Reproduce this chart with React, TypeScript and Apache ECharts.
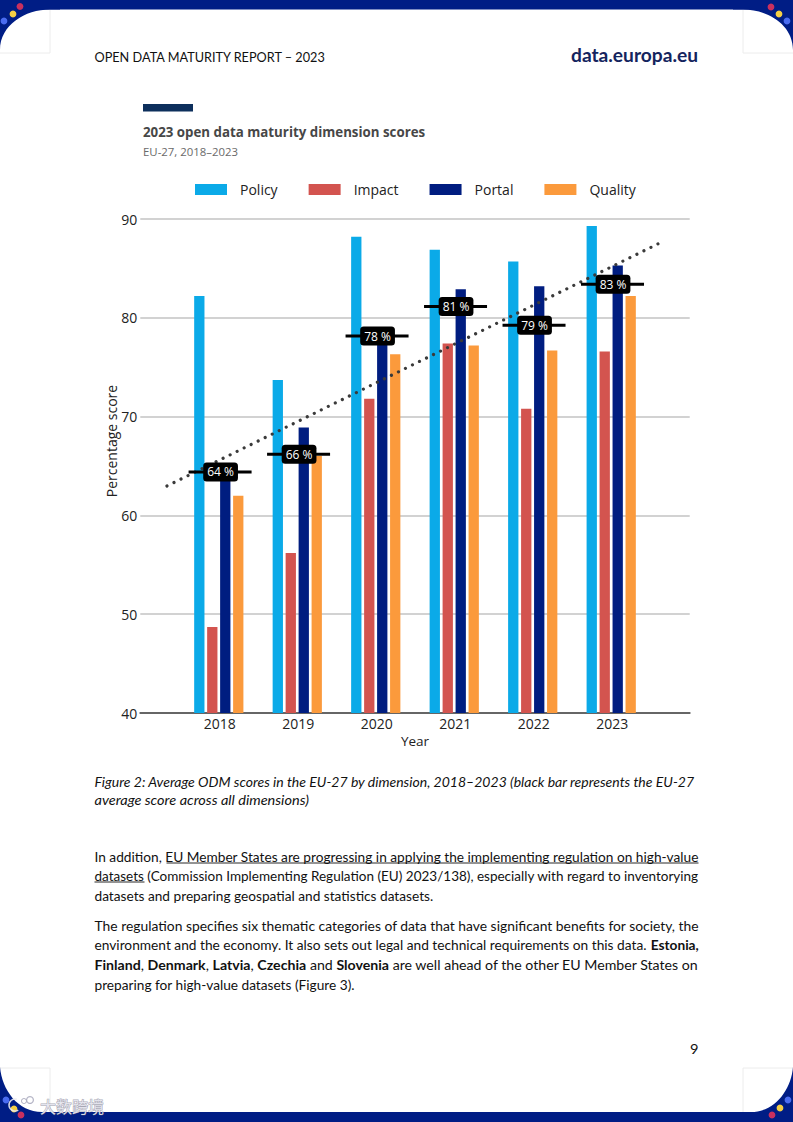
import React, { useEffect, useRef } from "react";
import * as echarts from "echarts";

const years = ["", "2018", "2019", "2020", "2021", "2022", "2023", ""];
const policy = [null, 82.2, 73.7, 88.2, 86.9, 85.7, 89.3, null];
const impact = [null, 48.7, 56.2, 71.8, 77.4, 70.8, 76.6, null];
const portal = [null, 65, 68.9, 79, 82.9, 83.2, 85.3, null];
const quality = [null, 62, 66, 76.3, 77.2, 76.7, 82.2, null];
const average = [null, 64.4, 66.2, 78.15, 81.15, 79.25, 83.4, null];
const averageLabels = ["", "64 %", "66 %", "78 %", "81 %", "79 %", "83 %", ""];
const trend = [[2017.34, 62.98], [2023.61, 87.54]];

const COLORS = { Policy: "#0baae8", Impact: "#d3544f", Portal: "#001d80", Quality: "#fb9a3c" };
const NAVY = "#001d85";
const CHART_FONT = "'Open Sans'";
const PAGE_FONT = "Lato";

// text, left, right, centre y, bold/italic style
const pageLines: [string, number, number, number, string?][] = [
  ["OPEN DATA MATURITY REPORT – 2023", 94.5, 326, 57],
  ["Figure 2: Average ODM scores in the EU-27 by dimension, 2018–2023 (black bar represents the EU-27", 94.5, 695, 782, "italic"],
  ["average score across all dimensions)", 94.5, 309, 800, "italic"],
  ["In addition, EU Member States are progressing in applying the implementing regulation on high-value", 94.5, 698.5, 857.5],
  ["datasets (Commission Implementing Regulation (EU) 2023/138), especially with regard to inventorying", 94.5, 698.5, 876.5],
  ["datasets and preparing geospatial and statistics datasets.", 94.5, 433.5, 896.5],
  ["The regulation specifies six thematic categories of data that have significant benefits for society, the", 94.5, 698.5, 926],
  ["environment and the economy. It also sets out legal and technical requirements on this data. {b|Estonia,}", 94.5, 698.5, 945.5],
  ["{b|Finland}, {b|Denmark}, {b|Latvia}, {b|Czechia} and {b|Slovenia} are well ahead of the other EU Member States on", 94.5, 698.5, 965.5],
  ["preparing for high-value datasets (Figure 3).", 94.5, 355, 985.5],
  ["9", 690, 698.5, 1049],
];

const cornerPaths: Record<string, string> = {
  cornerTL: "M0 0 H60 V9.5 H50 C25 9.5 0 25 0 50 Z",
  cornerTR: "M793 0 H733 V9.5 H743 C768 9.5 793 25 793 50 Z",
  cornerBL: "M0 1067 C2 1090 18 1112 42 1112 H60 V1122 H0 Z",
  cornerBR: "M793 1067 C791 1090 775 1112 751 1112 H733 V1122 H793 Z",
};
Object.keys(cornerPaths).forEach((k) =>
  echarts.graphic.registerShape(k, echarts.graphic.extendPath(cornerPaths[k], {}))
);

const dots: [number, number, string][] = [
  [20, 6.5, "#c8305f"], [13, 14, "#f4cf45"], [4, 21, "#4a6cf0"],
  [771, 7, "#c8305f"], [779, 14, "#f4cf45"], [787, 21, "#4a6cf0"],
  [6, 1100, "#4a6cf0"], [14, 1109, "#f4cf45"], [21, 1115, "#c8305f"],
  [788, 1100, "#4a6cf0"], [780, 1108, "#f4cf45"], [772, 1115, "#c8305f"],
];
const guideLines: number[][] = [
  [50, 10, 50, 53], [0, 53, 50, 53], [743, 10, 743, 53], [743, 53, 793, 53],
  [50, 1068, 50, 1112], [0, 1068, 50, 1068], [743, 1068, 743, 1112], [743, 1068, 793, 1068],
];

function measure(ctx: CanvasRenderingContext2D, text: string, size: number, style: string) {
  let total = 0;
  text.split(/(\{b\|[^}]*\})/).forEach((part) => {
    const m = part.match(/^\{b\|([^}]*)\}$/);
    ctx.font = `${style} ${m ? "bold" : "normal"} ${size}px ${PAGE_FONT}`;
    total += ctx.measureText(m ? m[1] : part).width;
  });
  return total;
}

const WATERMARK = "rgba(232,232,240,0.95)";
const WATERMARK_EDGE = "rgba(90,90,115,0.55)";

function buildGraphics() {
  const ctx = document.createElement("canvas").getContext("2d") as CanvasRenderingContext2D;
  const size = 13;
  const els: any[] = [
    { type: "rect", shape: { x: 0, y: 0, width: 793, height: 9.5 }, style: { fill: NAVY }, z: 1 },
    { type: "rect", shape: { x: 0, y: 1112, width: 793, height: 10 }, style: { fill: NAVY }, z: 1 },
  ];
  guideLines.forEach((l) =>
    els.push({
      type: "line",
      shape: { x1: l[0], y1: l[1], x2: l[2], y2: l[3] },
      style: { stroke: "#ececec", lineWidth: 1 },
      z: 0,
    })
  );
  Object.keys(cornerPaths).forEach((k) =>
    els.push({ type: k, x: 0, y: 0, style: { fill: NAVY }, z: 1 })
  );
  dots.forEach((d) =>
    els.push({ type: "circle", shape: { cx: d[0], cy: d[1], r: 3.4 }, style: { fill: d[2] }, z: 2 })
  );
  pageLines.forEach(([text, left, right, y, style]) => {
    const st = style || "normal";
    els.push({
      type: "text",
      x: left,
      y,
      scaleX: ((right - left) / measure(ctx, text, size, st)) * 1.001,
      z: 3,
      style: {
        text,
        fontFamily: PAGE_FONT,
        fontSize: size,
        fontStyle: st,
        fill: "#111",
        verticalAlign: "middle",
        align: "left",
        rich: { b: { fontFamily: PAGE_FONT, fontSize: size, fontWeight: "bold", fill: "#111" } },
      },
    });
  });
  [[166.5, 698.5, 863], [94.5, 144.5, 882]].forEach((u) =>
    els.push({
      type: "line",
      shape: { x1: u[0], y1: u[2], x2: u[1], y2: u[2] },
      style: { stroke: "#111", lineWidth: 0.9 },
      z: 3,
    })
  );
  // header logo wordmark
  ctx.font = `bold 19px ${PAGE_FONT}`;
  const logo = "data.europa.eu";
  els.push({
    type: "text",
    x: 571,
    y: 55,
    scaleX: 127 / ctx.measureText(logo).width,
    z: 3,
    style: { text: logo, fontFamily: PAGE_FONT, fontWeight: "bold", fontSize: 19, fill: "#14245e", verticalAlign: "middle" },
  });
  // title accent
  els.push({ type: "rect", shape: { x: 143, y: 104, width: 50, height: 7.5 }, style: { fill: "#0d2f5c" }, z: 3 });
  // watermark
  els.push({
    type: "text",
    x: 40,
    y: 1106,
    z: 4,
    style: {
      text: "大数跨境",
      fontFamily: "'Noto Sans CJK SC'",
      fontSize: 16,
      fill: WATERMARK,
      stroke: WATERMARK_EDGE,
      lineWidth: 1,
      verticalAlign: "middle",
    },
  });
  els.push({ type: "ring", shape: { cx: 30, cy: 1100, r: 4, r0: 2.8 }, style: { fill: "rgba(170,170,190,0.9)" }, z: 4 });
  els.push({ type: "ring", shape: { cx: 24, cy: 1101, r: 3, r0: 2 }, style: { fill: "rgba(170,170,190,0.9)" }, z: 4 });
  els.push({ type: "arc", shape: { cx: 15, cy: 1105, r: 6, startAngle: 1, endAngle: 5 }, style: { stroke: "rgba(235,235,240,0.9)", lineWidth: 1.5, fill: "none" }, z: 4 });
  return els;
}

function barSeries(name: keyof typeof COLORS, data: (number | null)[]) {
  return {
    name,
    type: "bar",
    data,
    barWidth: 10.3,
    barGap: "26%",
    itemStyle: { color: COLORS[name] },
    z: 2,
  };
}

export default function App() {
  const ref = useRef<HTMLDivElement>(null);
  useEffect(() => {
    const chart = echarts.init(ref.current as HTMLDivElement, undefined, { renderer: "svg" });
    chart.setOption({
      animation: false,
      backgroundColor: "#fff",
      textStyle: { fontFamily: CHART_FONT },
      title: {
        text: "2023 open data maturity dimension scores",
        subtext: "EU-27, 2018–2023",
        left: 143,
        top: 125,
        padding: 0,
        itemGap: 8,
        textStyle: { fontFamily: CHART_FONT, fontSize: 13.3, fontWeight: "bold", color: "#474747" },
        subtextStyle: { fontFamily: CHART_FONT, fontSize: 11.4, color: "#6a6a6a" },
      },
      legend: {
        left: 195,
        top: 182.5,
        padding: 0,
        icon: "rect",
        itemWidth: 32,
        itemHeight: 11,
        itemGap: 31,
        data: ["Policy", "Impact", "Portal", "Quality"],
        textStyle: { fontFamily: CHART_FONT, fontSize: 14, color: "#222", padding: [0, 0, 0, 8] },
      },
      grid: { left: 140.3, width: 549.4, top: 219, height: 494 },
      xAxis: [
        {
          type: "category",
          data: years,
          boundaryGap: false,
          name: "Year",
          nameLocation: "middle",
          nameGap: 21,
          nameTextStyle: { fontFamily: CHART_FONT, fontSize: 13.5, color: "#222" },
          axisLine: { lineStyle: { color: "#666", width: 2 } },
          axisTick: { show: false },
          axisLabel: { fontFamily: CHART_FONT, fontSize: 14, color: "#222", margin: 3, interval: 0, padding: [0, 0, 0, 2] },
          splitLine: { show: false },
        },
        { type: "value", min: 2017, max: 2024, show: false, splitLine: { show: false } },
      ],
      yAxis: {
        type: "value",
        min: 40,
        max: 90,
        interval: 10,
        name: "Percentage score",
        nameLocation: "middle",
        nameGap: 22,
        nameMoveOverlap: false,
        nameTextStyle: { fontFamily: CHART_FONT, fontSize: 14, color: "#222", padding: [0, 0, 0, 50] },
        axisLine: { show: false },
        axisTick: { show: false },
        axisLabel: { fontFamily: CHART_FONT, fontSize: 14, color: "#222", margin: 3 },
        splitLine: { lineStyle: { color: "#d2d2d2", width: 2.2 } },
      },
      series: [
        barSeries("Policy", policy),
        barSeries("Impact", impact),
        barSeries("Portal", portal),
        barSeries("Quality", quality),
        {
          name: "Trend",
          type: "line",
          xAxisIndex: 1,
          data: trend,
          showSymbol: false,
          silent: true,
          lineStyle: { color: "#3a3a3a", width: 3.2, type: [0.01, 7.81], cap: "round" },
          z: 3,
        },
        {
          name: "EU-27 average",
          type: "scatter",
          data: average,
          symbol: "rect",
          symbolSize: [63, 3],
          symbolOffset: [1.3, 0],
          itemStyle: { color: "#000", opacity: 1 },
          z: 4,
          label: {
            show: true,
            position: "inside",
            offset: [0.5, 0],
            formatter: (p: any) => averageLabels[p.dataIndex],
            fontFamily: CHART_FONT,
            fontSize: 12,
            color: "#fff",
            backgroundColor: "#000",
            borderRadius: 3.5,
            padding: [4, 4, 3, 4],
          },
        },
      ],
      graphic: buildGraphics(),
    });
    return () => chart.dispose();
  }, []);
  return (
    <div
      ref={ref}
      style={{ position: "absolute", left: 0, top: 0, width: 793, height: 1122, background: "#fff" }}
    />
  );
}
